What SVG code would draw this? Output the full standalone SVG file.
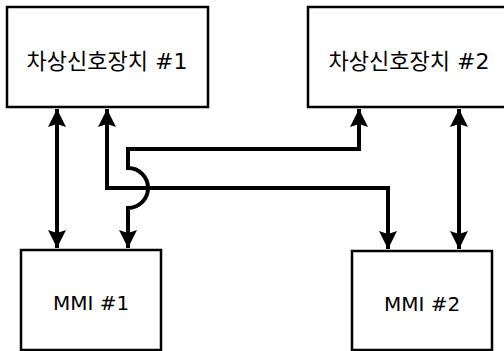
<svg xmlns="http://www.w3.org/2000/svg" width="504" height="351" viewBox="0 0 504 351">
<style>
.box{fill:#fff;stroke:#000;stroke-width:2.5}
.lbl{font-family:"DejaVu Sans","Noto Sans CJK KR",sans-serif;font-size:20px;fill:#000;text-anchor:middle}
.kr{font-family:"DejaVu Sans","Noto Sans CJK KR",sans-serif;font-size:22px;fill:#000;text-anchor:middle}
.ln{fill:none;stroke:#000;stroke-width:4;stroke-linejoin:miter}
</style>
<defs>
<marker id="ah" markerUnits="userSpaceOnUse" markerWidth="20" markerHeight="20" viewBox="0 0 20 20" refX="18" refY="10" orient="auto-start-reverse">
<path d="M18,10 L0,1 L3,10 L0,19 Z" fill="#000"/>
</marker>
</defs>
<rect width="504" height="351" fill="#fff"/>
<g id="dev1"><rect class="box" x="7" y="7" width="201" height="100"/><text class="kr" x="107" y="69">차상신호장치 #1</text></g>
<g id="dev2"><rect class="box" x="308" y="7" width="200" height="100"/><text class="kr" x="409" y="69">차상신호장치 #2</text></g>
<g id="mmi1"><rect class="box" x="21" y="250" width="140" height="100"/><text class="lbl" x="91" y="310">MMI #1</text></g>
<g id="mmi2"><rect class="box" x="352" y="251" width="140" height="99"/><text class="lbl" x="422" y="311">MMI #2</text></g>
<g id="connectors">
<path class="ln" d="M57,109 L57,248" marker-start="url(#ah)" marker-end="url(#ah)"/>
<path class="ln" d="M459,109 L459,249" marker-start="url(#ah)" marker-end="url(#ah)"/>
<path class="ln" d="M107,109 L107,188 L388,188 L388,249" marker-start="url(#ah)" marker-end="url(#ah)"/>
<path class="ln" d="M359,109 L359,149 L128,149 L128,168 A20,20 0 0 1 128,208 L128,248" marker-start="url(#ah)" marker-end="url(#ah)"/>
</g>
</svg>
